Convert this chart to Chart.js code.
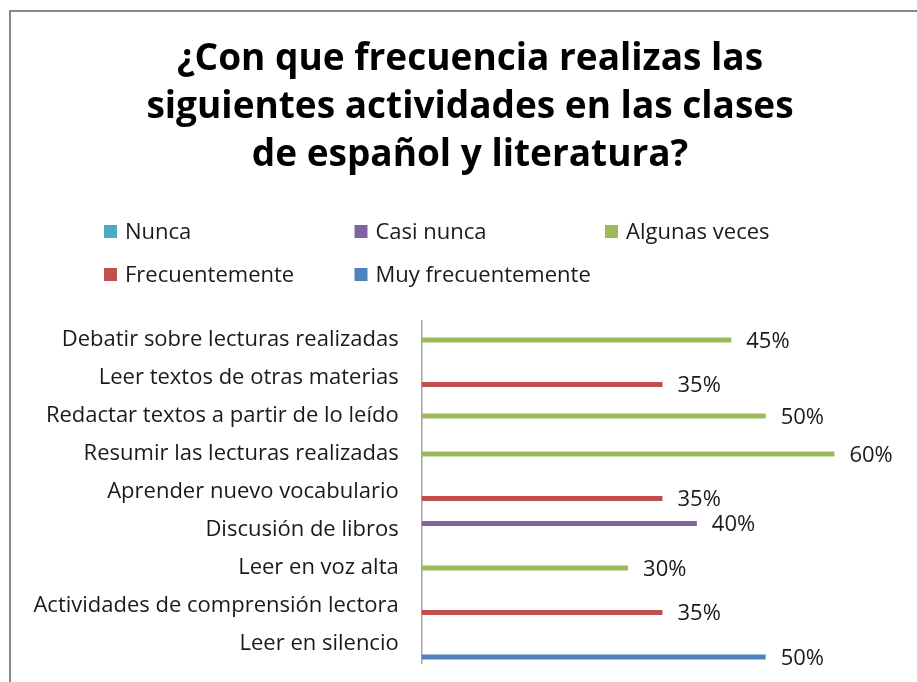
<!DOCTYPE html>
<html>
<head>
<meta charset="utf-8">
<script src="https://cdn.jsdelivr.net/npm/chart.js@4/dist/chart.umd.min.js"></script>
<style>
  html, body { margin: 0; padding: 0; background: #fff; }
  #wrap { width: 917px; height: 682px; }
</style>
</head>
<body>
<div id="wrap"><canvas id="chartCanvas" width="917" height="682"></canvas></div>
<script>
// datos (porcentajes)
const categories = [
  "Debatir sobre lecturas realizadas",
  "Leer textos de otras materias",
  "Redactar textos a partir de lo leído",
  "Resumir las lecturas realizadas",
  "Aprender nuevo vocabulario",
  "Discusión de libros",
  "Leer en voz alta",
  "Actividades de comprensión lectora",
  "Leer en silencio"
];
const seriesNames = ["Nunca", "Casi nunca", "Algunas veces", "Frecuentemente", "Muy frecuentemente"];
const seriesColors = ["#4BACC6", "#8064A2", "#9BBB59", "#C0504D", "#4F81BD"];

const nunca = [null, null, null, null, null, null, null, null, null];
const casiNunca = [null, null, null, null, null, 40, null, null, null];
const algunasVeces = [45, null, 50, 60, null, null, 30, null, null];
const frecuentemente = [null, 35, null, null, 35, null, null, 35, null];
const muyFrecuentemente = [null, null, null, null, null, null, null, null, 50];

const titleLines = [
  "¿Con que frecuencia realizas las",
  "siguientes actividades en las clases",
  "de español y literatura?"
];

const FONT = "'Open Sans', 'Noto Sans', sans-serif";
const TXT = 22;

// marco del grafico (solo arriba e izquierda, el resto queda fuera de la imagen)
const framePlugin = {
  id: "frame",
  beforeDraw(chart) {
    const ctx = chart.ctx;
    ctx.save();
    ctx.fillStyle = "#fff";
    ctx.fillRect(0, 0, chart.width, chart.height);
    ctx.strokeStyle = "#888";
    ctx.lineWidth = 2;
    ctx.beginPath();
    ctx.moveTo(10, chart.height);
    ctx.lineTo(10, 11);
    ctx.lineTo(chart.width, 11);
    ctx.stroke();
    ctx.restore();
  }
};

// leyenda en columnas fijas como en Excel
const columnLegend = {
  id: "columnLegend",
  afterDraw(chart) {
    const ctx = chart.ctx;
    ctx.save();
    ctx.font = TXT + "px " + FONT;
    ctx.textBaseline = "middle";
    ctx.textAlign = "left";
    chart.data.datasets.forEach((ds, i) => {
      const col = i % 3, row = Math.floor(i / 3);
      const x = 104 + col * 250.5;
      const y = 231.5 + row * 43;
      ctx.fillStyle = ds.backgroundColor;
      ctx.fillRect(x, y - 6.5, 13, 13);
      ctx.fillStyle = "#1a1a1a";
      ctx.fillText(ds.label, x + 21, y + 1);
    });
    ctx.restore();
  }
};

// etiquetas de valor al final de cada barra
const valueLabels = {
  id: "valueLabels",
  afterDatasetsDraw(chart) {
    const ctx = chart.ctx;
    ctx.save();
    ctx.font = TXT + "px " + FONT;
    ctx.fillStyle = "#1a1a1a";
    ctx.textBaseline = "middle";
    ctx.textAlign = "left";
    chart.data.datasets.forEach((ds, i) => {
      const meta = chart.getDatasetMeta(i);
      meta.data.forEach((bar, j) => {
        const v = ds.data[j];
        if (v === null || v === undefined) return;
        ctx.fillText(v + "%", bar.x + 15, bar.y + 1.5);
      });
    });
    ctx.restore();
  }
};

const ctx = document.getElementById("chartCanvas").getContext("2d");
new Chart(ctx, {
  type: "bar",
  data: {
    labels: categories,
    datasets: [nunca, casiNunca, algunasVeces, frecuentemente, muyFrecuentemente].map((d, i) => ({
      label: seriesNames[i],
      data: d,
      backgroundColor: seriesColors[i],
      borderWidth: 0,
      categoryPercentage: 0.85,
      barPercentage: 0.78
    }))
  },
  options: {
    indexAxis: "y",
    responsive: false,
    animation: false,
    layout: { padding: { left: 23, right: 0, top: 11, bottom: 19 } },
    plugins: {
      legend: { display: false },
      tooltip: { enabled: false },
      title: {
        display: true,
        text: titleLines,
        color: "#000",
        font: { family: FONT, size: 37, weight: "bold", lineHeight: 1.297 },
        padding: { top: 24, bottom: 142 }
      }
    },
    scales: {
      x: {
        display: false,
        min: 0,
        max: 72
      },
      y: {
        grid: { display: false, drawTicks: false },
        border: { display: true, color: "#a6a6a6", width: 1.5 },
        ticks: {
          color: "#1a1a1a",
          padding: 23,
          font: { family: FONT, size: TXT }
        },
        afterFit(scale) {
          scale.width = 398.7;
          scale.paddingTop = 0;
          scale.paddingBottom = 0;
        }
      }
    }
  },
  plugins: [framePlugin, columnLegend, valueLabels]
});
</script>
</body>
</html>
